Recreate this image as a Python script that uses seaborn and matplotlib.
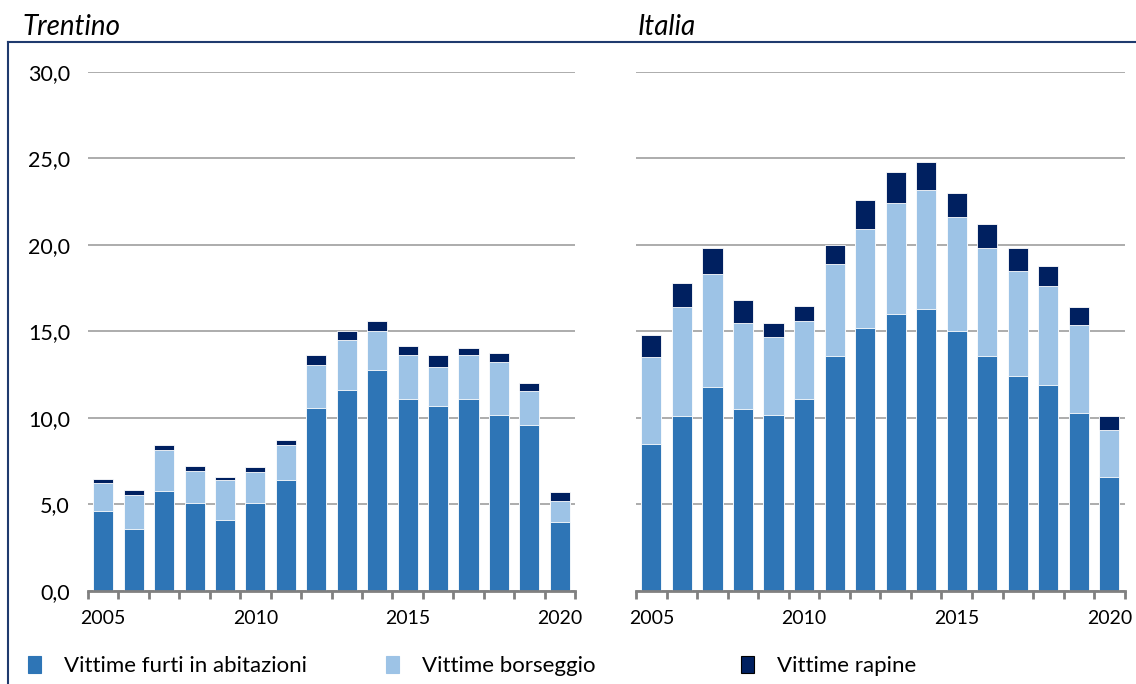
import seaborn as sns
import matplotlib.pyplot as plt
import pandas as pd
from matplotlib.lines import Line2D
from matplotlib.patches import Patch

# Anni
years = list(range(2005, 2021))

# Trentino (valori per 1.000 abitanti)
tn_furti = [4.6, 3.6, 5.8, 5.1, 4.1, 5.1, 6.4, 10.6, 11.6, 12.8, 11.1, 10.7, 11.1, 10.2, 9.6, 4.0]
tn_borseggio = [1.65, 1.95, 2.35, 1.85, 2.3, 1.75, 2.05, 2.45, 2.9, 2.2, 2.55, 2.25, 2.55, 3.05, 1.95, 1.2]
tn_rapine = [0.2, 0.3, 0.3, 0.3, 0.2, 0.3, 0.3, 0.6, 0.5, 0.6, 0.5, 0.7, 0.4, 0.5, 0.5, 0.5]

# Italia
it_furti = [8.5, 10.1, 11.8, 10.5, 10.2, 11.1, 13.6, 15.2, 16.0, 16.3, 15.0, 13.6, 12.4, 11.9, 10.3, 6.6]
it_borseggio = [5.0, 6.3, 6.5, 5.0, 4.5, 4.5, 5.3, 5.7, 6.4, 6.9, 6.6, 6.2, 6.1, 5.7, 5.1, 2.7]
it_rapine = [1.3, 1.4, 1.5, 1.3, 0.8, 0.9, 1.1, 1.7, 1.8, 1.6, 1.4, 1.4, 1.3, 1.2, 1.0, 0.8]

labels = ['Vittime furti in abitazioni', 'Vittime borseggio', 'Vittime rapine']
colors = ['#2E75B6', '#9DC3E6', '#002060']
yticks = [0, 5, 10, 15, 20, 25, 30]

plt.rcParams['font.family'] = ['Lato', 'DejaVu Sans']

fig = plt.figure(figsize=(11.36, 6.84), dpi=100)
ax1 = fig.add_axes([0.0775, 0.136, 0.4287, 0.7588])
ax2 = fig.add_axes([0.56, 0.136, 0.43, 0.7588])


def draw_panel(ax, furti, borseggio, rapine, show_y):
    df = pd.DataFrame({'anno': [str(y) for y in years],
                       'furti': furti, 'borseggio': borseggio, 'rapine': rapine})
    df['c2'] = df['furti'] + df['borseggio']
    df['c3'] = df['c2'] + df['rapine']
    # stacked: draw totals first, then overlay lower layers
    for col, c in [('c3', colors[2]), ('c2', colors[1]), ('furti', colors[0])]:
        sns.barplot(data=df, x='anno', y=col, color=c, width=0.66,
                    saturation=1, edgecolor='white', linewidth=0.6, ax=ax)
    ax.set_xlim(-0.5, len(years) - 0.5)
    ax.set_ylim(0, 30)
    ax.set_yticks(yticks)
    ax.yaxis.grid(True, color='#A6A6A6', linewidth=1.3)
    ax.set_axisbelow(True)
    for s in ['top', 'right', 'left']:
        ax.spines[s].set_visible(False)
    ax.spines['bottom'].set_color('#808080')
    ax.spines['bottom'].set_linewidth(2)
    ax.set_xlabel('')
    ax.set_ylabel('')
    # tick marks at category boundaries, labels every five years
    ax.set_xticks([i - 0.5 for i in range(len(years) + 1)], minor=True)
    ax.set_xticks([0, 5, 10, 15])
    ax.set_xticklabels(['2005', '2010', '2015', '2020'])
    ax.tick_params(axis='x', which='minor', length=6, width=2, color='#808080')
    ax.tick_params(axis='x', which='major', length=0, pad=14, labelsize=14)
    if show_y:
        ax.set_yticklabels([f'{v:.1f}'.replace('.', ',') for v in yticks])
        ax.tick_params(axis='y', length=0, pad=13, labelsize=15.5)
    else:
        ax.tick_params(axis='y', length=0, labelleft=False)


draw_panel(ax1, tn_furti, tn_borseggio, tn_rapine, True)
draw_panel(ax2, it_furti, it_borseggio, it_rapine, False)

fig.text(22 / 1136, 1 - 27 / 684, 'Trentino', fontsize=20, style='italic', va='center')
fig.text(638 / 1136, 1 - 27 / 684, 'Italia', fontsize=20, style='italic', va='center')

# frame lines
fig.add_artist(Line2D([8 / 1136, 1], [1 - 42 / 684] * 2, color='#1F3A6E', lw=1.5))
fig.add_artist(Line2D([8 / 1136] * 2, [0, 1 - 42 / 684], color='#1F3A6E', lw=1.5))

# legend, one entry placed at each marker position
for lab, c, x in zip(labels, colors, [28, 386, 741]):
    h = Patch(facecolor=c, edgecolor='black' if c == colors[2] else c, linewidth=0.8)
    fig.legend(handles=[h], labels=[lab], loc='center left',
               bbox_to_anchor=(x / 1136, 1 - 666 / 684), frameon=False,
               fontsize=16, handlelength=0.6, handleheight=0.8, handletextpad=1.0,
               borderaxespad=0, borderpad=0)

plt.savefig('out.png', dpi=100)
